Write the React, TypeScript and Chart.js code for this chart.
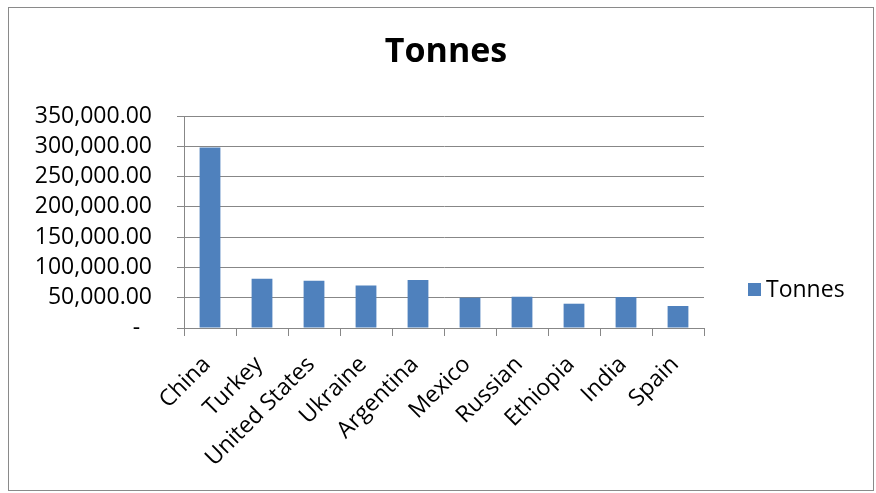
import React, { useEffect, useRef } from "react";
import { Chart, registerables } from "chart.js";

Chart.register(...registerables);

const categories = ["China", "Turkey", "United States", "Ukraine", "Argentina", "Mexico", "Russian", "Ethiopia", "India", "Spain"];
const tonnes = [298000, 81300, 78000, 70300, 79100, 50000, 51600, 40100, 51100, 36300];
const seriesName = "Tonnes";
const chartTitle = "Tonnes";
const yMax = 350000;
const yStep = 50000;

const FONT = "'Open Sans', sans-serif";
const BAR = "#4F81BD";
const GRID = "#878787";

const overlay = {
  id: "overlay",
  afterDraw(chart: any) {
    const ctx = chart.ctx;
    ctx.save();
    ctx.fillStyle = "#000";
    ctx.font = `bold 34px ${FONT}`;
    ctx.textAlign = "center";
    ctx.textBaseline = "alphabetic";
    ctx.fillText(chartTitle, 446, 62);
    ctx.fillStyle = BAR;
    ctx.fillRect(748, 283, 13, 13);
    ctx.fillStyle = "#000";
    ctx.font = `23px ${FONT}`;
    ctx.textAlign = "left";
    ctx.textBaseline = "middle";
    ctx.fillText(seriesName, 766, 290);
    ctx.restore();
  },
};

export default function App() {
  const ref = useRef<HTMLCanvasElement>(null);
  useEffect(() => {
    document.body.style.margin = "0";
    const chart = new Chart(ref.current!, {
      type: "bar",
      data: {
        labels: categories,
        datasets: [
          {
            label: seriesName,
            data: tonnes,
            backgroundColor: BAR,
            borderWidth: 0,
            categoryPercentage: 1,
            barPercentage: 0.4,
          },
        ],
      },
      options: {
        responsive: false,
        animation: false,
        layout: { padding: { left: 0, top: 116, right: 172, bottom: 0 } },
        plugins: {
          legend: { display: false },
          title: { display: false },
          tooltip: { enabled: false },
        },
        scales: {
          x: {
            afterFit: (s: any) => {
              s.height = 165;
            },
            grid: { drawOnChartArea: false, drawTicks: true, tickLength: 8, color: GRID, offset: true },
            border: { color: GRID, width: 1 },
            ticks: {
              autoSkip: false,
              maxRotation: 45,
              minRotation: 45,
              padding: 15,
              labelOffset: -3,
              color: "#000",
              font: { family: FONT, size: 23 },
            },
          },
          y: {
            min: 0,
            max: yMax,
            afterFit: (s: any) => {
              s.width = 184;
            },
            grid: { color: GRID, tickLength: 7, lineWidth: 1 },
            border: { color: GRID, width: 1 },
            ticks: {
              stepSize: yStep,
              autoSkip: false,
              padding: 25,
              color: "#000",
              font: { family: FONT, size: 23 },
              callback: (v: any) =>
                Number(v) === 0
                  ? "-  "
                  : Number(v).toLocaleString("en-US", { minimumFractionDigits: 2, maximumFractionDigits: 2 }),
            },
          },
        },
      },
      plugins: [overlay],
    });
    return () => chart.destroy();
  }, []);
  return (
    <div style={{ position: "relative", width: 876, height: 493, background: "#fff" }}>
      <canvas ref={ref} width={876} height={493} style={{ position: "absolute", left: 0, top: 0 }} />
      <div
        style={{
          position: "absolute",
          left: 8,
          top: 7,
          width: 864,
          height: 482,
          border: "1px solid #8a8a8a",
          pointerEvents: "none",
        }}
      />
    </div>
  );
}
